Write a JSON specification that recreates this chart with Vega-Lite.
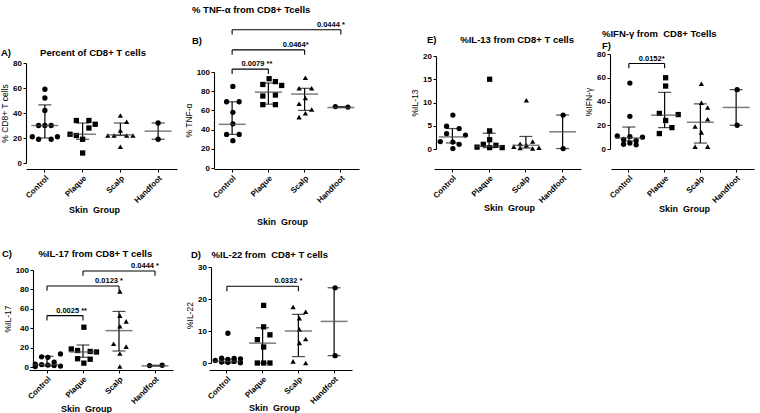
{
"$schema":"https://vega.github.io/schema/vega-lite/v6.json",
"padding":{"left":0,"top":4,"right":0,"bottom":0},
"autosize":{"type":"pad"},
"background":"white",
"bounds":"flush",
"spacing":204,
"datasets":{
"pts":[
{"p":"A","g":"Control","v":59,"s":"c"},{"p":"A","g":"Control","v":52,"s":"c"},{"p":"A","g":"Control","v":42,"s":"c"},{"p":"A","g":"Control","v":30,"s":"l1"},{"p":"A","g":"Control","v":30,"s":"c"},{"p":"A","g":"Control","v":30,"s":"r1"},{"p":"A","g":"Control","v":21,"s":"l2"},{"p":"A","g":"Control","v":19,"s":"l1"},{"p":"A","g":"Control","v":19,"s":"r1"},{"p":"A","g":"Control","v":21,"s":"r2"},
{"p":"A","g":"Plaque","v":34,"s":"l1"},{"p":"A","g":"Plaque","v":34,"s":"r1"},{"p":"A","g":"Plaque","v":31,"s":"r2"},{"p":"A","g":"Plaque","v":28,"s":"r1"},{"p":"A","g":"Plaque","v":23,"s":"l2"},{"p":"A","g":"Plaque","v":22,"s":"l1"},{"p":"A","g":"Plaque","v":19,"s":"c"},{"p":"A","g":"Plaque","v":8,"s":"c"},
{"p":"A","g":"Scalp","v":38,"s":"c"},{"p":"A","g":"Scalp","v":33,"s":"r1"},{"p":"A","g":"Scalp","v":26,"s":"c"},{"p":"A","g":"Scalp","v":22,"s":"l2"},{"p":"A","g":"Scalp","v":22,"s":"l1"},{"p":"A","g":"Scalp","v":22,"s":"r1"},{"p":"A","g":"Scalp","v":22,"s":"r2"},{"p":"A","g":"Scalp","v":13,"s":"c"},
{"p":"A","g":"Handfoot","v":32,"s":"c"},{"p":"A","g":"Handfoot","v":19,"s":"c"},
{"p":"B","g":"Control","v":85,"s":"c"},{"p":"B","g":"Control","v":69,"s":"l1"},{"p":"B","g":"Control","v":69,"s":"r1"},{"p":"B","g":"Control","v":58,"s":"c"},{"p":"B","g":"Control","v":46,"s":"c"},{"p":"B","g":"Control","v":35,"s":"l1"},{"p":"B","g":"Control","v":35,"s":"r1"},{"p":"B","g":"Control","v":28.5,"s":"c"},
{"p":"B","g":"Plaque","v":93,"s":"c"},{"p":"B","g":"Plaque","v":90,"s":"r1"},{"p":"B","g":"Plaque","v":87,"s":"l1"},{"p":"B","g":"Plaque","v":86,"s":"r2"},{"p":"B","g":"Plaque","v":76,"s":"r1"},{"p":"B","g":"Plaque","v":75,"s":"l1"},{"p":"B","g":"Plaque","v":66,"s":"l1"},{"p":"B","g":"Plaque","v":66,"s":"r1"},
{"p":"B","g":"Scalp","v":94,"s":"c"},{"p":"B","g":"Scalp","v":83,"s":"l1"},{"p":"B","g":"Scalp","v":83,"s":"r1"},{"p":"B","g":"Scalp","v":73,"s":"c"},{"p":"B","g":"Scalp","v":67,"s":"l1"},{"p":"B","g":"Scalp","v":61,"s":"r1"},{"p":"B","g":"Scalp","v":57,"s":"c"},{"p":"B","g":"Scalp","v":53,"s":"l1"},
{"p":"B","g":"Handfoot","v":64,"s":"l1"},{"p":"B","g":"Handfoot","v":63.5,"s":"r1"},
{"p":"C","g":"Control","v":13.5,"s":"r2"},{"p":"C","g":"Control","v":10.5,"s":"l1"},{"p":"C","g":"Control","v":10,"s":"c"},{"p":"C","g":"Control","v":5,"s":"r1"},{"p":"C","g":"Control","v":3,"s":"l2"},{"p":"C","g":"Control","v":2.5,"s":"l1"},{"p":"C","g":"Control","v":2,"s":"c"},{"p":"C","g":"Control","v":1.5,"s":"r1"},{"p":"C","g":"Control","v":1,"s":"r2"},{"p":"C","g":"Control","v":0.5,"s":"l2"},
{"p":"C","g":"Plaque","v":41,"s":"c"},{"p":"C","g":"Plaque","v":18.6,"s":"l2"},{"p":"C","g":"Plaque","v":17,"s":"l1"},{"p":"C","g":"Plaque","v":16,"s":"r1"},{"p":"C","g":"Plaque","v":15.5,"s":"r2"},{"p":"C","g":"Plaque","v":8.5,"s":"l1"},{"p":"C","g":"Plaque","v":8,"s":"r1"},{"p":"C","g":"Plaque","v":4,"s":"c"},
{"p":"C","g":"Scalp","v":78,"s":"c"},{"p":"C","g":"Scalp","v":53,"s":"c"},{"p":"C","g":"Scalp","v":47,"s":"r1"},{"p":"C","g":"Scalp","v":42,"s":"c"},{"p":"C","g":"Scalp","v":24,"s":"l1"},{"p":"C","g":"Scalp","v":21,"s":"r1"},{"p":"C","g":"Scalp","v":14,"s":"c"},{"p":"C","g":"Scalp","v":0.5,"s":"c"},
{"p":"C","g":"Handfoot","v":1.5,"s":"l1"},{"p":"C","g":"Handfoot","v":1.8,"s":"r1"},
{"p":"D","g":"Control","v":9.3,"s":"c"},{"p":"D","g":"Control","v":1.5,"s":"l1"},{"p":"D","g":"Control","v":1.4,"s":"r1"},{"p":"D","g":"Control","v":1.3,"s":"r2"},{"p":"D","g":"Control","v":1.1,"s":"c"},{"p":"D","g":"Control","v":0.8,"s":"l2"},{"p":"D","g":"Control","v":0.5,"s":"r1"},{"p":"D","g":"Control","v":0.3,"s":"l1"},{"p":"D","g":"Control","v":0.2,"s":"c"},{"p":"D","g":"Control","v":0.1,"s":"r2"},
{"p":"D","g":"Plaque","v":18,"s":"c"},{"p":"D","g":"Plaque","v":11.3,"s":"c"},{"p":"D","g":"Plaque","v":8.8,"s":"r1"},{"p":"D","g":"Plaque","v":7.3,"s":"l1"},{"p":"D","g":"Plaque","v":5,"s":"c"},{"p":"D","g":"Plaque","v":0,"s":"l1"},{"p":"D","g":"Plaque","v":0,"s":"c"},{"p":"D","g":"Plaque","v":0,"s":"r1"},
{"p":"D","g":"Scalp","v":17.5,"s":"l1"},{"p":"D","g":"Scalp","v":16,"s":"r1"},{"p":"D","g":"Scalp","v":14,"s":"c"},{"p":"D","g":"Scalp","v":10.5,"s":"c"},{"p":"D","g":"Scalp","v":7.5,"s":"r1"},{"p":"D","g":"Scalp","v":6.3,"s":"c"},{"p":"D","g":"Scalp","v":0.5,"s":"l1"},{"p":"D","g":"Scalp","v":0,"s":"r1"},
{"p":"D","g":"Handfoot","v":23.5,"s":"c"},{"p":"D","g":"Handfoot","v":2.3,"s":"c"},
{"p":"E","g":"Control","v":7.3,"s":"c"},{"p":"E","g":"Control","v":4.9,"s":"l1"},{"p":"E","g":"Control","v":4.4,"s":"r1"},{"p":"E","g":"Control","v":3.3,"s":"l1"},{"p":"E","g":"Control","v":3.0,"s":"r2"},{"p":"E","g":"Control","v":1.6,"s":"l2"},{"p":"E","g":"Control","v":1.5,"s":"c"},{"p":"E","g":"Control","v":1.0,"s":"r1"},{"p":"E","g":"Control","v":0.1,"s":"c"},
{"p":"E","g":"Plaque","v":15,"s":"c"},{"p":"E","g":"Plaque","v":3.9,"s":"c"},{"p":"E","g":"Plaque","v":2.0,"s":"c"},{"p":"E","g":"Plaque","v":1.0,"s":"l1"},{"p":"E","g":"Plaque","v":0.8,"s":"r1"},{"p":"E","g":"Plaque","v":0.4,"s":"l2"},{"p":"E","g":"Plaque","v":0.3,"s":"c"},{"p":"E","g":"Plaque","v":0.3,"s":"r2"},
{"p":"E","g":"Scalp","v":10.5,"s":"c"},{"p":"E","g":"Scalp","v":1.6,"s":"r1"},{"p":"E","g":"Scalp","v":1.1,"s":"l1"},{"p":"E","g":"Scalp","v":0.8,"s":"c"},{"p":"E","g":"Scalp","v":0.5,"s":"l2"},{"p":"E","g":"Scalp","v":0.3,"s":"r2"},{"p":"E","g":"Scalp","v":0.2,"s":"l1"},{"p":"E","g":"Scalp","v":0.1,"s":"r1"},
{"p":"E","g":"Handfoot","v":7.3,"s":"c"},{"p":"E","g":"Handfoot","v":0.1,"s":"c"},
{"p":"F","g":"Control","v":55.5,"s":"c"},{"p":"F","g":"Control","v":27.5,"s":"c"},{"p":"F","g":"Control","v":11,"s":"l2"},{"p":"F","g":"Control","v":10.5,"s":"c"},{"p":"F","g":"Control","v":10,"s":"r2"},{"p":"F","g":"Control","v":8,"s":"l1"},{"p":"F","g":"Control","v":7,"s":"r1"},{"p":"F","g":"Control","v":5,"s":"c"},{"p":"F","g":"Control","v":4,"s":"l1"},{"p":"F","g":"Control","v":3.5,"s":"r1"},
{"p":"F","g":"Plaque","v":60,"s":"c"},{"p":"F","g":"Plaque","v":53,"s":"c"},{"p":"F","g":"Plaque","v":30,"s":"l1"},{"p":"F","g":"Plaque","v":29,"s":"r2"},{"p":"F","g":"Plaque","v":24,"s":"c"},{"p":"F","g":"Plaque","v":18,"s":"r1"},{"p":"F","g":"Plaque","v":13,"s":"l1"},
{"p":"F","g":"Scalp","v":55,"s":"c"},{"p":"F","g":"Scalp","v":39,"s":"c"},{"p":"F","g":"Scalp","v":35,"s":"r1"},{"p":"F","g":"Scalp","v":25,"s":"r1"},{"p":"F","g":"Scalp","v":19,"s":"l1"},{"p":"F","g":"Scalp","v":14,"s":"c"},{"p":"F","g":"Scalp","v":2,"s":"l1"},{"p":"F","g":"Scalp","v":2,"s":"r1"},
{"p":"F","g":"Handfoot","v":50,"s":"c"},{"p":"F","g":"Handfoot","v":20,"s":"c"}
],
"stats":[
{"p":"A","g":"Control","med":30,"lo":20,"hi":46.5},{"p":"A","g":"Plaque","med":23,"lo":19,"hi":32},{"p":"A","g":"Scalp","med":22.5,"lo":22,"hi":32},{"p":"A","g":"Handfoot","med":25.5,"lo":19,"hi":32},
{"p":"B","g":"Control","med":45.5,"lo":35,"hi":69},{"p":"B","g":"Plaque","med":79,"lo":66.5,"hi":88.5},{"p":"B","g":"Scalp","med":77,"lo":60,"hi":83},{"p":"B","g":"Handfoot","med":63,"lo":63,"hi":64},
{"p":"C","g":"Control","med":2.4,"lo":1,"hi":11},{"p":"C","g":"Plaque","med":15.5,"lo":10,"hi":22.7},{"p":"C","g":"Scalp","med":37.5,"lo":16.5,"hi":57.3},{"p":"C","g":"Handfoot","med":1.2,"lo":1,"hi":1.8},
{"p":"D","g":"Control","med":0.5,"lo":0,"hi":1.2},{"p":"D","g":"Plaque","med":6.2,"lo":0,"hi":11},{"p":"D","g":"Scalp","med":10,"lo":2,"hi":15.2},{"p":"D","g":"Handfoot","med":13,"lo":2.3,"hi":23.5},
{"p":"E","g":"Control","med":2.6,"lo":1.3,"hi":4.4},{"p":"E","g":"Plaque","med":0.6,"lo":0.3,"hi":3.4},{"p":"E","g":"Scalp","med":0.8,"lo":0.2,"hi":2.7},{"p":"E","g":"Handfoot","med":3.7,"lo":0.1,"hi":7.3},
{"p":"F","g":"Control","med":9.3,"lo":6.7,"hi":18.5},{"p":"F","g":"Plaque","med":28.5,"lo":18,"hi":47.7},{"p":"F","g":"Scalp","med":22.5,"lo":5,"hi":38},{"p":"F","g":"Handfoot","med":35,"lo":20,"hi":50}
],
"brk":[
{"p":"B","from":"Control","to":"Plaque","y":103,"ye":98,"t":"0.0079 **"},
{"p":"B","from":"Control","to":"Scalp","y":123,"ye":118,"t":"0.0464*"},
{"p":"B","from":"Control","to":"Handfoot","y":144,"ye":139,"t":"0.0444 *"},
{"p":"C","from":"Control","to":"Plaque","y":53,"ye":48,"t":"0.0025 **"},
{"p":"C","from":"Control","to":"Scalp","y":83.5,"ye":78.5,"t":"0.0123 *"},
{"p":"C","from":"Plaque","to":"Handfoot","y":99,"ye":94,"t":"0.0444 *"},
{"p":"D","from":"Control","to":"Scalp","y":24,"ye":22.4,"t":"0.0332 *"},
{"p":"F","from":"Control","to":"Plaque","y":72,"ye":68,"t":"0.0152*"}
]
},
"vconcat":[
{"bounds":"flush","spacing":0,"hconcat":[
{"width":188,"height":115,
"title":{"text":"A)\u00a0\u00a0\u00a0\u00a0\u00a0\u00a0\u00a0\u00a0\u00a0\u00a0\u00a0Percent of CD8+ T cells","dx":-25,"dy":7},
"encoding":{"x":{"field":"g","type":"nominal","scale":{"type":"band","domain":["Control","Plaque","Scalp","Handfoot"],"range":[0,151],"paddingInner":0,"paddingOuter":0},"axis":{"title":"Skin\u00a0 Group","titleX":68,"titleY":40}}},
"layer":[
{"data":{"name":"pts"},"transform":[{"filter":"datum.p == 'A'"}],"mark":{"type":"point","filled":true,"opacity":1,"color":"#000","size":28,"strokeWidth":0},"encoding":{"xOffset":{"field":"s","type":"nominal","scale":{"domain":["l3","l2","l1","c","r1","r2","r3"],"paddingInner":0,"paddingOuter":0}},"y":{"field":"v","type":"quantitative","scale":{"domain":[0,80],"range":[109,9],"nice":false,"zero":false},"axis":{"title":"% CD8+ T cells","values":[0,20,40,60,80],"tickCount":20,"labelOverlap":false,"labelFlush":false}},"shape":{"field":"g","type":"nominal","scale":{"domain":["Control","Plaque","Scalp","Handfoot"],"range":["circle","square","triangle-up","circle"]},"legend":null}}},
{"data":{"name":"stats"},"transform":[{"filter":"datum.p == 'A'"}],"mark":{"type":"rule","color":"#000","strokeWidth":1.2},"encoding":{"y":{"field":"lo","type":"quantitative"},"y2":{"field":"hi"}}},
{"data":{"name":"stats"},"transform":[{"filter":"datum.p == 'A'"}],"mark":{"type":"tick","color":"#000","size":13,"thickness":1.2},"encoding":{"y":{"field":"lo","type":"quantitative"}}},
{"data":{"name":"stats"},"transform":[{"filter":"datum.p == 'A'"}],"mark":{"type":"tick","color":"#000","size":13,"thickness":1.2},"encoding":{"y":{"field":"hi","type":"quantitative"}}},
{"data":{"name":"stats"},"transform":[{"filter":"datum.p == 'A'"}],"mark":{"type":"tick","color":"#444","size":27,"thickness":1.5},"encoding":{"y":{"field":"med","type":"quantitative"}}}
]},
{"width":222,"height":115,
"title":{"text":"\u00a0\u00a0\u00a0\u00a0\u00a0\u00a0\u00a0\u00a0\u00a0\u00a0\u00a0\u00a0% TNF-α from CD8+ Tcells","subtitle":"B)","subtitlePadding":22,"dx":-22,"dy":29},
"encoding":{"x":{"field":"g","type":"nominal","scale":{"type":"band","domain":["Control","Plaque","Scalp","Handfoot"],"range":[0,145],"paddingInner":0,"paddingOuter":0},"axis":{"title":"Skin\u00a0 Group","titleX":68,"titleY":52}}},
"layer":[
{"data":{"name":"pts"},"transform":[{"filter":"datum.p == 'B'"}],"mark":{"type":"point","filled":true,"opacity":1,"color":"#000","size":28,"strokeWidth":0},"encoding":{"xOffset":{"field":"s","type":"nominal","scale":{"domain":["l3","l2","l1","c","r1","r2","r3"],"paddingInner":0,"paddingOuter":0}},"y":{"field":"v","type":"quantitative","scale":{"domain":[0,100],"range":[114,18],"nice":false,"zero":false},"axis":{"title":"% TNF-α","values":[0,20,40,60,80,100],"tickCount":20,"labelOverlap":false,"labelFlush":false}},"shape":{"field":"g","type":"nominal","scale":{"domain":["Control","Plaque","Scalp","Handfoot"],"range":["circle","square","triangle-up","circle"]},"legend":null}}},
{"data":{"name":"stats"},"transform":[{"filter":"datum.p == 'B'"}],"mark":{"type":"rule","color":"#000","strokeWidth":1.2},"encoding":{"y":{"field":"lo","type":"quantitative"},"y2":{"field":"hi"}}},
{"data":{"name":"stats"},"transform":[{"filter":"datum.p == 'B'"}],"mark":{"type":"tick","color":"#000","size":13,"thickness":1.2},"encoding":{"y":{"field":"lo","type":"quantitative"}}},
{"data":{"name":"stats"},"transform":[{"filter":"datum.p == 'B'"}],"mark":{"type":"tick","color":"#000","size":13,"thickness":1.2},"encoding":{"y":{"field":"hi","type":"quantitative"}}},
{"data":{"name":"stats"},"transform":[{"filter":"datum.p == 'B'"}],"mark":{"type":"tick","color":"#444","size":27,"thickness":1.5},"encoding":{"y":{"field":"med","type":"quantitative"}}},
{"data":{"name":"brk"},"transform":[{"filter":"datum.p == 'B'"}],"mark":{"type":"rule","color":"#000","strokeWidth":1.1},"encoding":{"x":{"field":"from","type":"nominal"},"x2":{"field":"to"},"y":{"field":"y","type":"quantitative"}}},
{"data":{"name":"brk"},"transform":[{"filter":"datum.p == 'B'"}],"mark":{"type":"rule","color":"#000","strokeWidth":1.1},"encoding":{"x":{"field":"from","type":"nominal"},"y":{"field":"y","type":"quantitative"},"y2":{"field":"ye"}}},
{"data":{"name":"brk"},"transform":[{"filter":"datum.p == 'B'"}],"mark":{"type":"rule","color":"#000","strokeWidth":1.1},"encoding":{"x":{"field":"to","type":"nominal"},"y":{"field":"y","type":"quantitative"},"y2":{"field":"ye"}}},
{"data":{"name":"brk"},"transform":[{"filter":"datum.p == 'B'"}],"mark":{"type":"text","align":"right","baseline":"alphabetic","dx":4,"dy":-3,"fontSize":7.5,"fontWeight":"bold","color":"#000"},"encoding":{"x":{"field":"to","type":"nominal"},"y":{"field":"y","type":"quantitative"},"text":{"field":"t"}}}
]},
{"width":174,"height":115,
"title":{"text":"E)\u00a0\u00a0\u00a0\u00a0\u00a0\u00a0\u00a0\u00a0\u00a0%IL-13 from CD8+ T cells","dx":-9,"dy":-4},
"encoding":{"x":{"field":"g","type":"nominal","scale":{"type":"band","domain":["Control","Plaque","Scalp","Handfoot"],"range":[-2,145],"paddingInner":0,"paddingOuter":0},"axis":{"title":"Skin\u00a0 Group","titleX":73,"titleY":38}}},
"layer":[
{"data":{"name":"pts"},"transform":[{"filter":"datum.p == 'E'"}],"mark":{"type":"point","filled":true,"opacity":1,"color":"#000","size":28,"strokeWidth":0},"encoding":{"xOffset":{"field":"s","type":"nominal","scale":{"domain":["l3","l2","l1","c","r1","r2","r3"],"paddingInner":0,"paddingOuter":0}},"y":{"field":"v","type":"quantitative","scale":{"domain":[0,20],"range":[95,2],"nice":false,"zero":false},"axis":{"title":"%IL-13","values":[0,5,10,15,20],"tickCount":20,"labelOverlap":false,"labelFlush":false}},"shape":{"field":"g","type":"nominal","scale":{"domain":["Control","Plaque","Scalp","Handfoot"],"range":["circle","square","triangle-up","circle"]},"legend":null}}},
{"data":{"name":"stats"},"transform":[{"filter":"datum.p == 'E'"}],"mark":{"type":"rule","color":"#000","strokeWidth":1.2},"encoding":{"y":{"field":"lo","type":"quantitative"},"y2":{"field":"hi"}}},
{"data":{"name":"stats"},"transform":[{"filter":"datum.p == 'E'"}],"mark":{"type":"tick","color":"#000","size":13,"thickness":1.2},"encoding":{"y":{"field":"lo","type":"quantitative"}}},
{"data":{"name":"stats"},"transform":[{"filter":"datum.p == 'E'"}],"mark":{"type":"tick","color":"#000","size":13,"thickness":1.2},"encoding":{"y":{"field":"hi","type":"quantitative"}}},
{"data":{"name":"stats"},"transform":[{"filter":"datum.p == 'E'"}],"mark":{"type":"tick","color":"#444","size":27,"thickness":1.5},"encoding":{"y":{"field":"med","type":"quantitative"}}}
]},
{"width":145,"height":115,
"title":{"text":"\u00a0\u00a0\u00a0\u00a0\u00a0%IFN-γ from\u00a0 CD8+ Tcells","subtitle":"F)","subtitlePadding":2,"dx":-8,"dy":4},
"encoding":{"x":{"field":"g","type":"nominal","scale":{"type":"band","domain":["Control","Plaque","Scalp","Handfoot"],"range":[1,144],"paddingInner":0,"paddingOuter":0},"axis":{"title":"Skin\u00a0 Group","titleX":74,"titleY":39}}},
"layer":[
{"data":{"name":"pts"},"transform":[{"filter":"datum.p == 'F'"}],"mark":{"type":"point","filled":true,"opacity":1,"color":"#000","size":28,"strokeWidth":0},"encoding":{"xOffset":{"field":"s","type":"nominal","scale":{"domain":["l3","l2","l1","c","r1","r2","r3"],"paddingInner":0,"paddingOuter":0}},"y":{"field":"v","type":"quantitative","scale":{"domain":[0,80],"range":[95,0],"nice":false,"zero":false},"axis":{"title":"%IFN-γ","values":[0,20,40,60,80],"tickCount":20,"labelOverlap":false,"labelFlush":false}},"shape":{"field":"g","type":"nominal","scale":{"domain":["Control","Plaque","Scalp","Handfoot"],"range":["circle","square","triangle-up","circle"]},"legend":null}}},
{"data":{"name":"stats"},"transform":[{"filter":"datum.p == 'F'"}],"mark":{"type":"rule","color":"#000","strokeWidth":1.2},"encoding":{"y":{"field":"lo","type":"quantitative"},"y2":{"field":"hi"}}},
{"data":{"name":"stats"},"transform":[{"filter":"datum.p == 'F'"}],"mark":{"type":"tick","color":"#000","size":13,"thickness":1.2},"encoding":{"y":{"field":"lo","type":"quantitative"}}},
{"data":{"name":"stats"},"transform":[{"filter":"datum.p == 'F'"}],"mark":{"type":"tick","color":"#000","size":13,"thickness":1.2},"encoding":{"y":{"field":"hi","type":"quantitative"}}},
{"data":{"name":"stats"},"transform":[{"filter":"datum.p == 'F'"}],"mark":{"type":"tick","color":"#444","size":27,"thickness":1.5},"encoding":{"y":{"field":"med","type":"quantitative"}}},
{"data":{"name":"brk"},"transform":[{"filter":"datum.p == 'F'"}],"mark":{"type":"rule","color":"#000","strokeWidth":1.1},"encoding":{"x":{"field":"from","type":"nominal"},"x2":{"field":"to"},"y":{"field":"y","type":"quantitative"}}},
{"data":{"name":"brk"},"transform":[{"filter":"datum.p == 'F'"}],"mark":{"type":"rule","color":"#000","strokeWidth":1.1},"encoding":{"x":{"field":"from","type":"nominal"},"y":{"field":"y","type":"quantitative"},"y2":{"field":"ye"}}},
{"data":{"name":"brk"},"transform":[{"filter":"datum.p == 'F'"}],"mark":{"type":"rule","color":"#000","strokeWidth":1.1},"encoding":{"x":{"field":"to","type":"nominal"},"y":{"field":"y","type":"quantitative"},"y2":{"field":"ye"}}},
{"data":{"name":"brk"},"transform":[{"filter":"datum.p == 'F'"}],"mark":{"type":"text","align":"right","baseline":"alphabetic","dx":0,"dy":-3,"fontSize":7.5,"fontWeight":"bold","color":"#000"},"encoding":{"x":{"field":"to","type":"nominal"},"y":{"field":"y","type":"quantitative"},"text":{"field":"t"}}}
]}
]},
{"bounds":"flush","spacing":0,"hconcat":[
{"width":185,"height":112,
"title":{"text":"C)\u00a0\u00a0\u00a0\u00a0\u00a0\u00a0\u00a0\u00a0\u00a0\u00a0%IL-17 from CD8+ T cells","dx":-24,"dy":4},
"encoding":{"x":{"field":"g","type":"nominal","scale":{"type":"band","domain":["Control","Plaque","Scalp","Handfoot"],"range":[3,147],"paddingInner":0,"paddingOuter":0},"axis":{"title":"Skin\u00a0 Group","titleX":60,"titleY":38}}},
"layer":[
{"data":{"name":"pts"},"transform":[{"filter":"datum.p == 'C'"}],"mark":{"type":"point","filled":true,"opacity":1,"color":"#000","size":28,"strokeWidth":0},"encoding":{"xOffset":{"field":"s","type":"nominal","scale":{"domain":["l3","l2","l1","c","r1","r2","r3"],"paddingInner":0,"paddingOuter":0}},"y":{"field":"v","type":"quantitative","scale":{"domain":[0,100],"range":[109,12],"nice":false,"zero":false},"axis":{"title":"%IL-17","values":[0,20,40,60,80,100],"tickCount":20,"offset":-7,"labelOverlap":false,"labelFlush":false}},"shape":{"field":"g","type":"nominal","scale":{"domain":["Control","Plaque","Scalp","Handfoot"],"range":["circle","square","triangle-up","circle"]},"legend":null}}},
{"data":{"name":"stats"},"transform":[{"filter":"datum.p == 'C'"}],"mark":{"type":"rule","color":"#000","strokeWidth":1.2},"encoding":{"y":{"field":"lo","type":"quantitative"},"y2":{"field":"hi"}}},
{"data":{"name":"stats"},"transform":[{"filter":"datum.p == 'C'"}],"mark":{"type":"tick","color":"#000","size":13,"thickness":1.2},"encoding":{"y":{"field":"lo","type":"quantitative"}}},
{"data":{"name":"stats"},"transform":[{"filter":"datum.p == 'C'"}],"mark":{"type":"tick","color":"#000","size":13,"thickness":1.2},"encoding":{"y":{"field":"hi","type":"quantitative"}}},
{"data":{"name":"stats"},"transform":[{"filter":"datum.p == 'C'"}],"mark":{"type":"tick","color":"#444","size":27,"thickness":1.5},"encoding":{"y":{"field":"med","type":"quantitative"}}},
{"data":{"name":"brk"},"transform":[{"filter":"datum.p == 'C'"}],"mark":{"type":"rule","color":"#000","strokeWidth":1.1},"encoding":{"x":{"field":"from","type":"nominal"},"x2":{"field":"to"},"y":{"field":"y","type":"quantitative"}}},
{"data":{"name":"brk"},"transform":[{"filter":"datum.p == 'C'"}],"mark":{"type":"rule","color":"#000","strokeWidth":1.1},"encoding":{"x":{"field":"from","type":"nominal"},"y":{"field":"y","type":"quantitative"},"y2":{"field":"ye"}}},
{"data":{"name":"brk"},"transform":[{"filter":"datum.p == 'C'"}],"mark":{"type":"rule","color":"#000","strokeWidth":1.1},"encoding":{"x":{"field":"to","type":"nominal"},"y":{"field":"y","type":"quantitative"},"y2":{"field":"ye"}}},
{"data":{"name":"brk"},"transform":[{"filter":"datum.p == 'C'"}],"mark":{"type":"text","align":"right","baseline":"alphabetic","dx":4,"dy":-3,"fontSize":7.5,"fontWeight":"bold","color":"#000"},"encoding":{"x":{"field":"to","type":"nominal"},"y":{"field":"y","type":"quantitative"},"text":{"field":"t"}}}
]},
{"width":145,"height":112,
"title":{"text":"D)\u00a0\u00a0\u00a0\u00a0%IL-22 from\u00a0 CD8+ T cells","dx":-20,"dy":5},
"encoding":{"x":{"field":"g","type":"nominal","scale":{"type":"band","domain":["Control","Plaque","Scalp","Handfoot"],"range":[-2,141],"paddingInner":0,"paddingOuter":0},"axis":{"title":"Skin\u00a0 Group","titleX":63,"titleY":37}}},
"layer":[
{"data":{"name":"pts"},"transform":[{"filter":"datum.p == 'D'"}],"mark":{"type":"point","filled":true,"opacity":1,"color":"#000","size":28,"strokeWidth":0},"encoding":{"xOffset":{"field":"s","type":"nominal","scale":{"domain":["l3","l2","l1","c","r1","r2","r3"],"paddingInner":0,"paddingOuter":0}},"y":{"field":"v","type":"quantitative","scale":{"domain":[0,30],"range":[105,9],"nice":false,"zero":false},"axis":{"title":"%IL-22","values":[0,10,20,30],"tickCount":20,"labelOverlap":false,"labelFlush":false}},"shape":{"field":"g","type":"nominal","scale":{"domain":["Control","Plaque","Scalp","Handfoot"],"range":["circle","square","triangle-up","circle"]},"legend":null}}},
{"data":{"name":"stats"},"transform":[{"filter":"datum.p == 'D'"}],"mark":{"type":"rule","color":"#000","strokeWidth":1.2},"encoding":{"y":{"field":"lo","type":"quantitative"},"y2":{"field":"hi"}}},
{"data":{"name":"stats"},"transform":[{"filter":"datum.p == 'D'"}],"mark":{"type":"tick","color":"#000","size":13,"thickness":1.2},"encoding":{"y":{"field":"lo","type":"quantitative"}}},
{"data":{"name":"stats"},"transform":[{"filter":"datum.p == 'D'"}],"mark":{"type":"tick","color":"#000","size":13,"thickness":1.2},"encoding":{"y":{"field":"hi","type":"quantitative"}}},
{"data":{"name":"stats"},"transform":[{"filter":"datum.p == 'D'"}],"mark":{"type":"tick","color":"#444","size":27,"thickness":1.5},"encoding":{"y":{"field":"med","type":"quantitative"}}},
{"data":{"name":"brk"},"transform":[{"filter":"datum.p == 'D'"}],"mark":{"type":"rule","color":"#000","strokeWidth":1.1},"encoding":{"x":{"field":"from","type":"nominal"},"x2":{"field":"to"},"y":{"field":"y","type":"quantitative"}}},
{"data":{"name":"brk"},"transform":[{"filter":"datum.p == 'D'"}],"mark":{"type":"rule","color":"#000","strokeWidth":1.1},"encoding":{"x":{"field":"from","type":"nominal"},"y":{"field":"y","type":"quantitative"},"y2":{"field":"ye"}}},
{"data":{"name":"brk"},"transform":[{"filter":"datum.p == 'D'"}],"mark":{"type":"rule","color":"#000","strokeWidth":1.1},"encoding":{"x":{"field":"to","type":"nominal"},"y":{"field":"y","type":"quantitative"},"y2":{"field":"ye"}}},
{"data":{"name":"brk"},"transform":[{"filter":"datum.p == 'D'"}],"mark":{"type":"text","align":"right","baseline":"alphabetic","dx":4,"dy":-3,"fontSize":7.5,"fontWeight":"bold","color":"#000"},"encoding":{"x":{"field":"to","type":"nominal"},"y":{"field":"y","type":"quantitative"},"text":{"field":"t"}}}
]}
]}
],
"config":{
"font":"Liberation Sans",
"view":{"stroke":null},
"axis":{"grid":false,"domainColor":"#000","domainWidth":1.1,"tickColor":"#000","tickWidth":1,"tickSize":3,"labelColor":"#000","labelFontSize":8,"labelFontWeight":"bold","labelPadding":1.5,"labelOverlap":false,"titleColor":"#000"},
"axisX":{"labelAngle":-45,"titleFontSize":9,"titleFontWeight":"bold","titleBaseline":"middle","labelPadding":2},
"axisY":{"titleFontSize":8.5,"titleFontWeight":"normal","titlePadding":3},
"title":{"anchor":"start","frame":"group","fontSize":9.5,"fontWeight":"bold","color":"#000","offset":4,"subtitleFontSize":9.5,"subtitleFontWeight":"bold","subtitleColor":"#000"},
"text":{"font":"Liberation Sans"}
}
}
